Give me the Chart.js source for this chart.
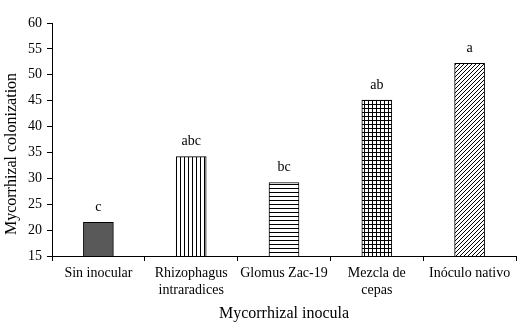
<!DOCTYPE html>
<html lang="en">
<head>
    <meta charset="utf-8" />
    <title>Mycorrhizal colonization</title>
    <script src="https://cdn.jsdelivr.net/npm/chart.js"></script>
    <style>
        html, body { margin: 0; padding: 0; background: #fff; }
        #wrap { width: 524px; height: 328px; }
    </style>
</head>
<body>
    <div id="wrap"><canvas id="chart" width="524" height="328"></canvas></div>

    <script>
        // data
        const categories = [
            "Sin inocular",
            ["Rhizophagus", "intraradices"],
            "Glomus Zac-19",
            ["Mezcla de", "cepas"],
            "Inóculo nativo"
        ];
        const colonization = [21.5, 34.2, 29.2, 45.1, 52.2];
        const letters = ["c", "abc", "bc", "ab", "a"];
        const yTicks = [15, 20, 25, 30, 35, 40, 45, 50, 55, 60];

        const FONT = "'Liberation Serif', 'Times New Roman', serif";

        // hatch fills
        function makePattern(kind) {
            const s = 4;
            const c = document.createElement("canvas");
            c.width = s; c.height = s;
            const g = c.getContext("2d");
            g.fillStyle = "#fff";
            g.fillRect(0, 0, s, s);
            g.fillStyle = "#000";
            if (kind === "vert") {
                g.fillRect(0, 0, 1, s);
            } else if (kind === "horiz") {
                g.fillRect(0, 0, s, 1);
            } else if (kind === "grid") {
                g.fillRect(0, 0, 1, s);
                g.fillRect(0, 0, s, 1);
            } else if (kind === "diag") {
                for (let i = 0; i < s; i++) g.fillRect(s - 1 - i, i, 1, 1);
            }
            return g.createPattern(c, "repeat");
        }

        const fills = [
            "#595959",
            makePattern("vert"),
            makePattern("horiz"),
            makePattern("grid"),
            makePattern("diag")
        ];

        // significance letters over bars + y title (sits a bit low in the original)
        const letterPlugin = {
            id: "letters",
            afterDatasetsDraw(chart) {
                const ctx = chart.ctx;
                const meta = chart.getDatasetMeta(0);
                ctx.save();
                ctx.font = "14px " + FONT;
                ctx.fillStyle = "#000";
                ctx.textAlign = "center";
                ctx.textBaseline = "bottom";
                meta.data.forEach((bar, i) => {
                    ctx.fillText(letters[i], bar.x, bar.y - 8);
                });
                ctx.translate(12, 154);
                ctx.rotate(-Math.PI / 2);
                ctx.font = "16px " + FONT;
                ctx.textBaseline = "middle";
                ctx.fillText("Mycorrhizal colonization", 0, 0);
                ctx.restore();
            }
        };

        new Chart(document.getElementById("chart"), {
            type: "bar",
            data: {
                labels: categories,
                datasets: [{
                    data: colonization,
                    backgroundColor: fills,
                    borderColor: "#000",
                    borderWidth: 1,
                    borderSkipped: false,
                    barThickness: 30
                }]
            },
            options: {
                responsive: false,
                animation: false,
                layout: { padding: { top: 23, right: 8, left: 0, bottom: 0 } },
                plugins: {
                    legend: { display: false },
                    tooltip: { enabled: false }
                },
                scales: {
                    x: {
                        offset: true,
                        grid: {
                            offset: true,
                            drawOnChartArea: false,
                            color: "#000",
                            tickLength: 5,
                            tickColor: "#000"
                        },
                        border: { color: "#000", width: 1 },
                        ticks: {
                            color: "#000",
                            font: { family: FONT, size: 14 },
                            padding: 4,
                            maxRotation: 0,
                            autoSkip: false
                        },
                        title: {
                            display: true,
                            text: "Mycorrhizal inocula",
                            color: "#000",
                            font: { family: FONT, size: 16 },
                            padding: { top: 4, bottom: 5 }
                        },
                        afterFit(scale) { scale.height = 72; }
                    },
                    y: {
                        min: 15,
                        max: 60,
                        afterBuildTicks(scale) {
                            scale.ticks = yTicks.map(v => ({ value: v }));
                        },
                        grid: {
                            drawOnChartArea: false,
                            color: "#000",
                            tickLength: 5,
                            tickColor: "#000"
                        },
                        border: { color: "#000", width: 1 },
                        ticks: {
                            color: "#000",
                            font: { family: FONT, size: 14 },
                            padding: 5
                        },
                        afterFit(scale) { scale.width = 52; }
                    }
                }
            },
            plugins: [letterPlugin]
        });
    </script>
</body>
</html>
